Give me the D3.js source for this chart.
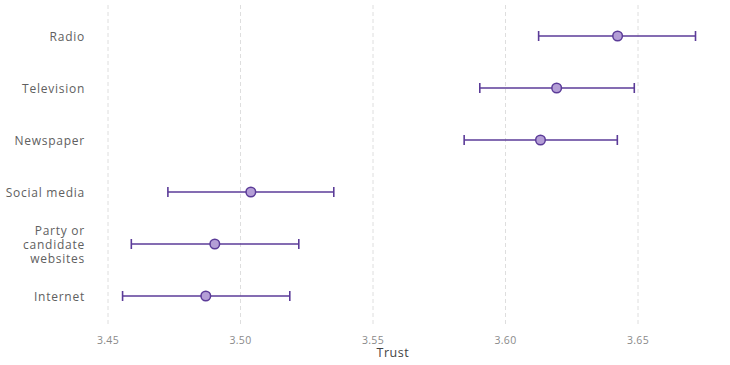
<!DOCTYPE html>
<html><head><meta charset="utf-8">
<script src="https://cdn.jsdelivr.net/npm/d3@7"></script>
<style>body{margin:0;background:#fff;} svg{display:block;}</style>
</head><body>
<svg id="c" width="730" height="365"></svg>
<script>
const categories = ["Radio","Television","Newspaper","Social media","Party or candidate websites","Internet"];
const labelLines = [["Radio"],["Television"],["Newspaper"],["Social media"],["Party or","candidate","websites"],["Internet"]];
const estimate = [3.6423,3.6193,3.6132,3.5039,3.4903,3.4869];
const lower = [3.6125,3.5903,3.5844,3.4726,3.4588,3.4555];
const upper = [3.6717,3.6486,3.6422,3.5352,3.5220,3.5186];
const xTicks = [3.45,3.50,3.55,3.60,3.65];
const xTitle = "Trust";

const svg = d3.select("#c");
const font = "'Open Sans', sans-serif";
const x = d3.scaleLinear().domain([3.45,3.65]).range([108,638]);
const y = d3.scalePoint().domain(categories).range([36,296]);

// grid
svg.append("g").selectAll("line").data(xTicks).join("line")
  .attr("x1",d=>x(d)).attr("x2",d=>x(d)).attr("y1",5).attr("y2",326)
  .attr("stroke","#dedede").attr("stroke-width",1).attr("stroke-dasharray","4,3");

// x tick labels
svg.append("g").selectAll("text").data(xTicks).join("text")
  .attr("x",d=>x(d)).attr("y",344).attr("text-anchor","middle")
  .attr("font-family",font).attr("font-size",10.5).attr("fill","#8a8a8a")
  .attr("letter-spacing",0.3)
  .text(d=>d3.format(".2f")(d));

svg.append("text").attr("x",x(3.5575)).attr("y",357).attr("text-anchor","middle")
  .attr("font-family",font).attr("font-size",12.5).attr("fill","#444")
  .attr("letter-spacing",0.5).text(xTitle);

// y labels
const lab = svg.append("g").selectAll("text").data(categories).join("text")
  .attr("text-anchor","end").attr("font-family",font).attr("font-size",12).attr("fill","#606060")
  .attr("letter-spacing",0.75)
  .attr("transform",d=>`translate(85,${y(d)+1})`);
lab.each(function(d,i){
  const lines = labelLines[i];
  const n = lines.length, lh = 14;
  d3.select(this).selectAll("tspan").data(lines).join("tspan")
    .attr("x",0).attr("y",(l,j)=>(j-(n-1)/2)*lh).attr("dy","0.35em").text(l=>l);
});

const col = "#5b3b98";
const g = svg.append("g");
categories.forEach((c,i)=>{
  const yy = y(c);
  g.append("line").attr("x1",x(lower[i])).attr("x2",x(upper[i])).attr("y1",yy).attr("y2",yy)
    .attr("stroke",col).attr("stroke-width",1.6);
  [lower[i],upper[i]].forEach(v=>{
    g.append("line").attr("x1",x(v)).attr("x2",x(v)).attr("y1",yy-5).attr("y2",yy+5)
      .attr("stroke",col).attr("stroke-width",1.6);
  });
  g.append("circle").attr("cx",x(estimate[i])).attr("cy",yy).attr("r",4.8)
    .attr("fill","#b49ed6").attr("stroke",col).attr("stroke-width",1.5);
});
</script>
</body></html>
